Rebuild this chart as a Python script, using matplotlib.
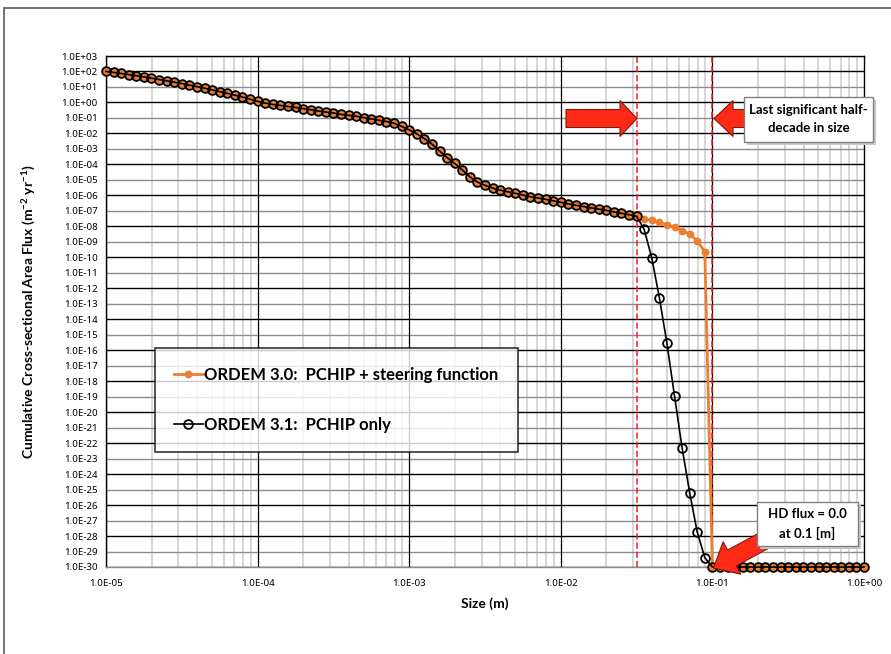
import numpy as np
import matplotlib.pyplot as plt
from matplotlib.patches import Polygon, Rectangle
from matplotlib.ticker import NullLocator

plt.rcParams['font.family'] = ['Lato', 'DejaVu Sans']
plt.rcParams['mathtext.fontset'] = 'custom'
plt.rcParams['mathtext.rm'] = 'Lato'
plt.rcParams['mathtext.bf'] = 'Lato:bold'

W, H = 891, 654

# size grid: 20 points per decade, 1E-05 .. 1E+00 (log10 of size in m)
size_exp = np.arange(-100, 1) / 20

# log10 of cumulative flux (index 0..70 shared by both models)
flux_common_exp = [
    2.00, 1.94, 1.87, 1.80, 1.73, 1.65, 1.57, 1.48, 1.40, 1.31,
    1.22, 1.12, 1.02, 0.92, 0.81, 0.70, 0.59, 0.47, 0.35, 0.21,
    0.07, -0.04, -0.13, -0.19, -0.26, -0.32, -0.40, -0.47, -0.55, -0.62,
    -0.68, -0.77, -0.83, -0.89, -0.98, -1.06, -1.15, -1.23, -1.34, -1.55,
    -1.77, -2.02, -2.33, -2.69, -3.13, -3.56, -3.94, -4.36, -4.80, -5.14,
    -5.35, -5.53, -5.66, -5.77, -5.87, -5.98, -6.09, -6.17, -6.26, -6.35,
    -6.45, -6.55, -6.64, -6.72, -6.81, -6.89, -6.97, -7.07, -7.16, -7.25,
    -7.35,
]
# HD flux = 0.0 from 0.1 m on, shown on the axis floor (1E-30)
ordem30_tail_exp = [-7.51, -7.62, -7.74, -7.89, -8.07, -8.28, -8.50, -8.93, -9.65] + [-30] * 21
ordem31_tail_exp = [-8.20, -10.04, -12.60, -15.55, -18.95, -22.30, -25.20, -27.75, -29.40] + [-30] * 21

LABEL_30 = 'ORDEM 3.0:  PCHIP + steering function'
LABEL_31 = 'ORDEM 3.1:  PCHIP only'

sizes = 10.0 ** size_exp
flux30 = 10.0 ** np.array(flux_common_exp + ordem30_tail_exp)
flux31 = 10.0 ** np.array(flux_common_exp + ordem31_tail_exp)


def px(x, y):
    """pixel (from top-left) -> figure fraction"""
    return x / W, 1 - y / H


def block_arrow(tail, tip, body_w, head_w, head_l):
    (x0, y0), (x1, y1) = tail, tip
    d = np.hypot(x1 - x0, y1 - y0)
    ux, uy = (x1 - x0) / d, (y1 - y0) / d
    nx, ny = -uy, ux
    bx, by = x1 - ux * head_l, y1 - uy * head_l
    pts = [
        (x0 + nx * body_w / 2, y0 + ny * body_w / 2),
        (bx + nx * body_w / 2, by + ny * body_w / 2),
        (bx + nx * head_w / 2, by + ny * head_w / 2),
        (x1, y1),
        (bx - nx * head_w / 2, by - ny * head_w / 2),
        (bx - nx * body_w / 2, by - ny * body_w / 2),
        (x0 - nx * body_w / 2, y0 - ny * body_w / 2),
    ]
    return Polygon([px(x, y) for x, y in pts], closed=True, transform=fig.transFigure,
                   facecolor='#ff2a16', edgecolor='#7a1a10', lw=0.8, zorder=10)


def text_box(x0, y0, x1, y1, txt):
    fig.add_artist(Rectangle(px(x0 + 3, y1 + 3), (x1 - x0) / W, (y1 - y0) / H,
                             transform=fig.transFigure, facecolor='#c8c8c8', edgecolor='none', zorder=11))
    fig.add_artist(Rectangle(px(x0, y1), (x1 - x0) / W, (y1 - y0) / H,
                             transform=fig.transFigure, facecolor='white', edgecolor='#7f7f7f', lw=1, zorder=12))
    fig.text(*px((x0 + x1) / 2, (y0 + y1) / 2), txt, ha='center', va='center', fontsize=9.5,
             fontweight='bold', linespacing=1.6, zorder=13)


fig = plt.figure(figsize=(W / 100, H / 100), dpi=100)
l, b = px(106, 567)
r, t = px(864, 56)
ax = fig.add_axes([l, b, r - l, t - b])

ax.set_xscale('log')
ax.set_yscale('log')
ax.set_xlim(1e-5, 1e0)
ax.set_ylim(1e-30, 1e3)

# grid
for e in range(-30, 4):
    ax.axhline(10.0 ** e, color='black' if e % 2 == 0 else '#8c8c8c', lw=1.0, zorder=1)
for e in range(-5, 0):
    for m in range(2, 10):
        ax.axvline(m * 10.0 ** e, color='#d4d4d4', lw=1.3, zorder=0.5)
    ax.axvline(10.0 ** e, color='black', lw=0.9, zorder=1)

ax.axvline(10 ** -1.5, color='#ff1a1a', ls=(0, (4, 2)), lw=1.1, zorder=2)
ax.axvline(10 ** -1.0, color='#ff1a1a', ls=(0, (4, 2)), lw=1.1, zorder=2)

ax.plot(sizes, flux30, color='#ed7d31', lw=2, marker='o', ms=4.6, mfc='#ed7d31', mec='#ed7d31',
        clip_on=False, zorder=3, label=LABEL_30)
ax.plot(sizes, flux31, color='black', lw=1.2, marker='o', ms=6.3, mfc='none', mec='black', mew=1.3,
        clip_on=False, zorder=4, label=LABEL_31)

tick_font = {'family': ['Noto Sans', 'DejaVu Sans'], 'size': 7}
ax.set_yticks([10.0 ** e for e in range(-30, 4)])
ax.set_yticklabels([f'1.0E{e:+03d}' for e in range(-30, 4)], fontdict=tick_font)
ax.set_xticks([10.0 ** e for e in range(-5, 1)])
ax.set_xticklabels([f'1.0E{e:+03d}' for e in range(-5, 1)], fontdict=tick_font)
ax.xaxis.set_minor_locator(NullLocator())
ax.yaxis.set_minor_locator(NullLocator())
ax.tick_params(length=0)
ax.tick_params(axis='y', pad=6)
ax.tick_params(axis='x', pad=9)
for s in ax.spines.values():
    s.set_color('black')
    s.set_linewidth(1)
ax.spines['bottom'].set_color('#8c8c8c')

ax.set_xlabel('Size (m)', fontsize=10, fontweight='bold', labelpad=6)
ax.set_ylabel(r'Cumulative Cross-sectional Area Flux (m$^{\mathbf{-2}}$ yr$^{\mathbf{-1}}$)',
              fontsize=10, fontweight='bold')
ax.yaxis.set_label_coords(-(106 - 37) / (864 - 106), 0.5)

leg = ax.legend(loc='upper left', bbox_to_anchor=px(155, 348), bbox_transform=fig.transFigure,
                borderaxespad=0, frameon=True, fancybox=False, edgecolor='black',
                prop={'weight': 'bold', 'size': 12}, handlelength=1.7, handletextpad=0.1,
                labelspacing=2.05, borderpad=1.15)
leg.get_frame().set_linewidth(1.2)
leg.set_zorder(20)

# annotations
fig.add_artist(block_arrow((566, 118.5), (637, 118.5), 18, 36, 17))
fig.add_artist(block_arrow((760, 118.5), (714, 118.5), 18, 36, 19))
fig.add_artist(block_arrow((776, 534), (713.5, 568), 18, 37, 21))
text_box(744, 97, 873, 142, 'Last significant half-\ndecade in size')
text_box(757, 502, 858, 546, 'HD flux = 0.0\nat 0.1 [m]')

fig.add_artist(Rectangle(px(4, H + 10), W, (H + 2) / H, transform=fig.transFigure,
                         fill=False, edgecolor='#595959', lw=1.2, zorder=30))

fig.savefig('out.png', dpi=100)
